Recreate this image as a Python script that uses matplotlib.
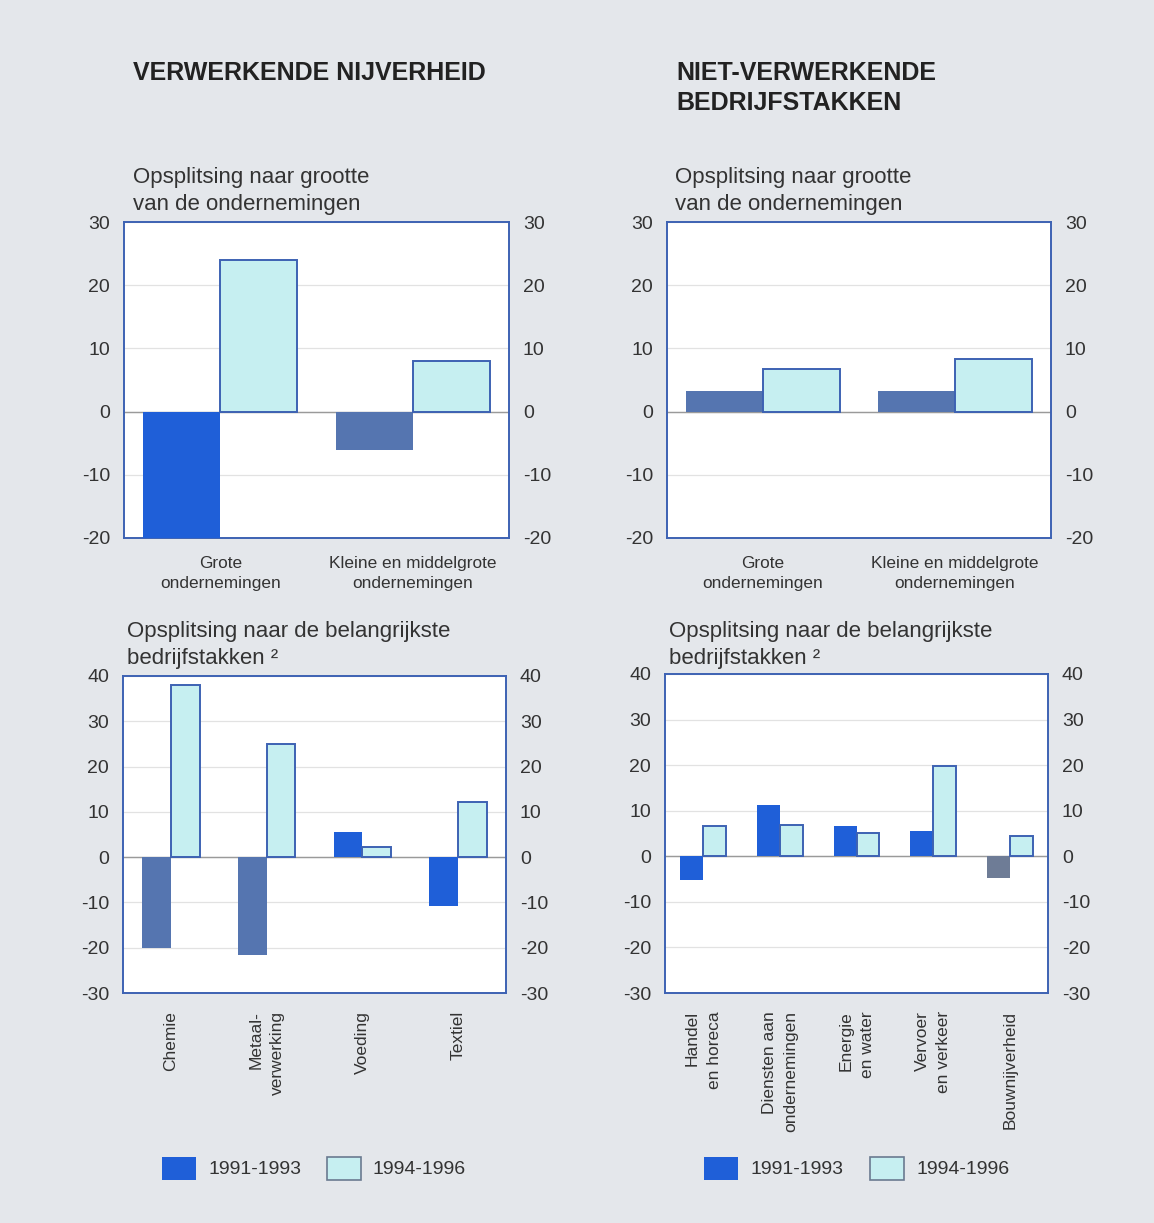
import matplotlib.pyplot as plt
from matplotlib.patches import Rectangle

plt.rcParams['font.family'] = ['Liberation Sans', 'DejaVu Sans']
plt.rcParams['axes.unicode_minus'] = False

# gegevens
size_cats = ['Grote\nondernemingen', 'Kleine en middelgrote\nondernemingen']
verw_size_9193 = [-20, -6]
verw_size_9496 = [24, 8]
niet_size_9193 = [3.3, 3.3]
niet_size_9496 = [6.7, 8.3]

verw_sectors = ['Chemie', 'Metaal-\nverwerking', 'Voeding', 'Textiel']
verw_sec_9193 = [-20, -21.5, 5.5, -10.8]
verw_sec_9496 = [38, 25, 2.2, 12.2]

niet_sectors = ['Handel\nen horeca', 'Diensten aan\nondernemingen', 'Energie\nen water',
                'Vervoer\nen verkeer', 'Bouwnijverheid']
niet_sec_9193 = [-5.2, 11.3, 6.6, 5.5, -4.8]
niet_sec_9496 = [6.6, 6.9, 5.1, 19.8, 4.5]

legend_labels = ['1991-1993', '1994-1996']

W, H = 1154, 1223
BG = '#e4e7eb'
BRIGHT = '#1f5fd8'
SLATE = '#5575b0'
GREY = '#6e7c96'
LIGHT = '#c6eff1'
EDGE = '#3d62b3'
TXT = '#333333'

fig = plt.figure(figsize=(W / 100, H / 100), dpi=100)
fig.patch.set_facecolor(BG)


def px_axes(x0, y0, x1, y1):
    return fig.add_axes([x0 / W, 1 - y1 / H, (x1 - x0) / W, (y1 - y0) / H])


def draw_panel(ax, cats, v1, v2, width, ylim, colors1, rotated):
    n = len(cats)
    pos = list(range(n))
    ax.set_facecolor('white')
    ax.bar([p - width / 2 for p in pos], v1, width, color=colors1, edgecolor='none', zorder=3)
    ax.bar([p + width / 2 for p in pos], v2, width, color=LIGHT, edgecolor=EDGE, linewidth=1.4, zorder=3)
    ax.set_xlim(-0.5, n - 0.5)
    ax.set_ylim(*ylim)
    ax.set_yticks(range(ylim[0], ylim[1] + 1, 10))
    ax.yaxis.grid(True, color='#e2e2e2', linewidth=0.9, zorder=0)
    ax.axhline(0, color='#9a9a9a', linewidth=1.0, zorder=2)
    for s in ax.spines.values():
        s.set_color(EDGE)
        s.set_linewidth(1.4)
    ax.tick_params(axis='y', length=0, pad=10, labelsize=14, labelcolor=TXT,
                   labelright=True, right=False)
    ax.set_xticks(pos)
    ax.tick_params(axis='x', length=0, pad=13)
    if rotated:
        labels = ax.set_xticklabels(cats, rotation=90, fontsize=12.5, color=TXT,
                                    multialignment='right')
    else:
        labels = ax.set_xticklabels(cats, fontsize=12.4, color=TXT)
    for lab in labels:
        lab.set_linespacing(1.55 if rotated else 1.4)


ax1 = px_axes(124, 222, 509, 538)
draw_panel(ax1, size_cats, verw_size_9193, verw_size_9496, 0.4, (-20, 30), [BRIGHT, SLATE], False)
ax2 = px_axes(667, 222, 1051, 538)
draw_panel(ax2, size_cats, niet_size_9193, niet_size_9496, 0.4, (-20, 30), [SLATE, SLATE], False)
ax3 = px_axes(123, 676, 506, 993)
draw_panel(ax3, verw_sectors, verw_sec_9193, verw_sec_9496, 0.3, (-30, 40),
           [SLATE, SLATE, BRIGHT, BRIGHT], True)
ax4 = px_axes(665, 674, 1048, 993)
draw_panel(ax4, niet_sectors, niet_sec_9193, niet_sec_9496, 0.3, (-30, 40),
           [BRIGHT, BRIGHT, BRIGHT, BRIGHT, GREY], True)

# titels
fig.text(133 / W, 1 - 61 / H, 'VERWERKENDE NIJVERHEID', fontsize=18, fontweight='bold',
         color='#222222', va='top')
fig.text(676 / W, 1 - 61 / H, 'NIET-VERWERKENDE\nBEDRIJFSTAKKEN', fontsize=18, fontweight='bold',
         color='#222222', va='top', linespacing=1.3)
for x in (133, 675):
    fig.text(x / W, 1 - 167 / H, 'Opsplitsing naar grootte\nvan de ondernemingen', fontsize=16,
             color=TXT, va='top', linespacing=1.4)
for x in (127, 669):
    fig.text(x / W, 1 - 621 / H, 'Opsplitsing naar de belangrijkste\nbedrijfstakken ²', fontsize=16,
             color=TXT, va='top', linespacing=1.4)

# legenda
for x0, tx0, x1, tx1 in [(162, 208, 327, 373), (704, 751, 870, 916)]:
    fig.add_artist(Rectangle((x0 / W, 1 - 1180 / H), 34 / W, 23 / H, facecolor=BRIGHT,
                             edgecolor='none', transform=fig.transFigure))
    fig.text(tx0 / W, 1 - 1169 / H, legend_labels[0], fontsize=14, color=TXT, va='center')
    fig.add_artist(Rectangle((x1 / W, 1 - 1180 / H), 34 / W, 23 / H, facecolor=LIGHT,
                             edgecolor='#6a7a90', linewidth=1.2, transform=fig.transFigure))
    fig.text(tx1 / W, 1 - 1169 / H, legend_labels[1], fontsize=14, color=TXT, va='center')

fig.savefig('out.png', dpi=100, facecolor=BG)
